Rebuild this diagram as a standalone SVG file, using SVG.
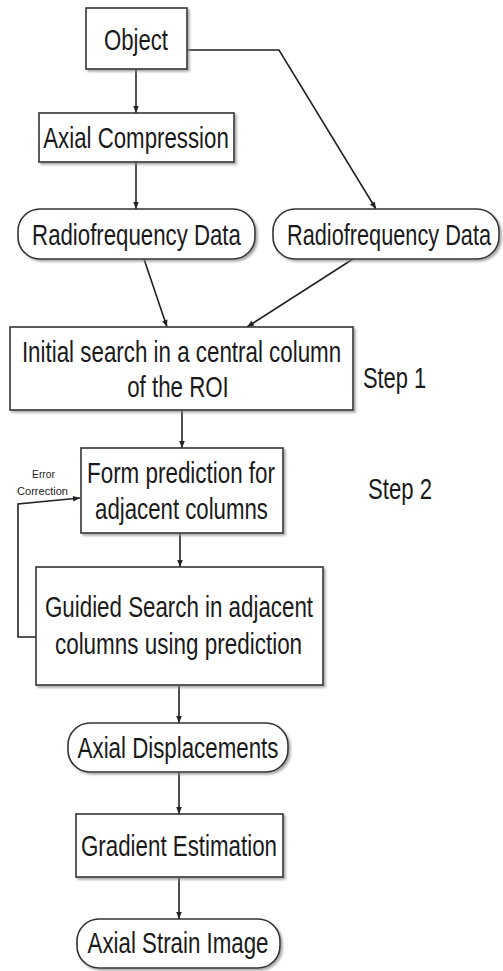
<svg xmlns="http://www.w3.org/2000/svg" width="503" height="971" viewBox="0 0 503 971">
<defs>
<marker id="ah" viewBox="0 0 10 10" refX="10" refY="5" markerWidth="9" markerHeight="7" markerUnits="userSpaceOnUse" orient="auto">
<path d="M0,1 L10,5 L0,9 Z" fill="#222"/>
</marker>
<filter id="sh" x="-10%" y="-10%" width="130%" height="140%">
<feDropShadow dx="2" dy="2" stdDeviation="1.2" flood-color="#888" flood-opacity="0.7"/>
</filter>
</defs>
<style>
.box{fill:#fff;stroke:#333;stroke-width:1.6;filter:url(#sh)}
.t{font-family:"Liberation Sans Narrow","Liberation Sans",Arial,sans-serif;font-size:29px;fill:#1a1a1a;text-anchor:middle}
.s{font-family:"Liberation Sans Narrow","Liberation Sans",Arial,sans-serif;font-size:10px;fill:#222;text-anchor:middle}
.c{fill:none;stroke:#222;stroke-width:1.6}
</style>
<rect width="503" height="971" fill="#fff"/>
<g id="connectors">
<line class="c" x1="136" y1="69" x2="136" y2="113" marker-end="url(#ah)"/>
<polyline class="c" points="187,50 279,50 376,209" marker-end="url(#ah)"/>
<line class="c" x1="136" y1="162" x2="136" y2="209" marker-end="url(#ah)"/>
<line class="c" x1="144" y1="259" x2="167" y2="327" marker-end="url(#ah)"/>
<line class="c" x1="353" y1="259" x2="247" y2="327" marker-end="url(#ah)"/>
<line class="c" x1="182" y1="410" x2="182" y2="448" marker-end="url(#ah)"/>
<line class="c" x1="180" y1="533" x2="180" y2="567" marker-end="url(#ah)"/>
<polyline class="c" points="36,637 18,637 18,504 80,498" marker-end="url(#ah)"/>
<line class="c" x1="179" y1="685" x2="179" y2="723" marker-end="url(#ah)"/>
<line class="c" x1="179" y1="772" x2="179" y2="814" marker-end="url(#ah)"/>
<line class="c" x1="179" y1="877" x2="179" y2="919" marker-end="url(#ah)"/>
</g>
<g id="object"><rect class="box" x="86" y="8" width="101" height="61"/><text class="t" transform="translate(136,50) scale(0.8,1)" textLength="80" lengthAdjust="spacingAndGlyphs">Object</text></g>
<g id="axial-compression"><rect class="box" x="39" y="113" width="195" height="49"/><text class="t" transform="translate(136,148) scale(0.8,1)" textLength="232" lengthAdjust="spacingAndGlyphs">Axial Compression</text></g>
<g id="rf-data-1"><rect class="box" x="18" y="209" width="237" height="50" rx="22"/><text class="t" transform="translate(136.5,245) scale(0.8,1)" textLength="261" lengthAdjust="spacingAndGlyphs">Radiofrequency Data</text></g>
<g id="rf-data-2"><rect class="box" x="273" y="209" width="226" height="50" rx="22"/><text class="t" transform="translate(389,245) scale(0.75,1)" textLength="272" lengthAdjust="spacingAndGlyphs">Radiofrequency Data</text></g>
<g id="initial-search"><rect class="box" x="10" y="327" width="343" height="83"/><text class="t" transform="translate(181.5,362) scale(0.8,1)" textLength="399" lengthAdjust="spacingAndGlyphs">Initial search in a central column</text><text class="t" transform="translate(178,397) scale(0.8,1)" textLength="127" lengthAdjust="spacingAndGlyphs">of the ROI</text></g>
<g id="step1"><text class="t" transform="translate(394.5,388) scale(0.8,1)" textLength="79" lengthAdjust="spacingAndGlyphs">Step 1</text></g>
<g id="form-prediction"><rect class="box" x="81" y="448" width="202" height="85"/><text class="t" transform="translate(181,483) scale(0.8,1)" textLength="235" lengthAdjust="spacingAndGlyphs">Form prediction for</text><text class="t" transform="translate(181.5,519) scale(0.8,1)" textLength="216" lengthAdjust="spacingAndGlyphs">adjacent columns</text></g>
<g id="step2"><text class="t" transform="translate(400,499) scale(0.8,1)" textLength="80" lengthAdjust="spacingAndGlyphs">Step 2</text></g>
<g id="error-correction"><text class="s" x="43.5" y="478" textLength="23" lengthAdjust="spacingAndGlyphs">Error</text><text class="s" x="42.5" y="495" textLength="51" lengthAdjust="spacingAndGlyphs">Correction</text></g>
<g id="guided-search"><rect class="box" x="36" y="567" width="287" height="118"/><text class="t" transform="translate(179,617) scale(0.8,1)" textLength="335" lengthAdjust="spacingAndGlyphs">Guidied Search in adjacent</text><text class="t" transform="translate(178.5,654) scale(0.8,1)" textLength="309" lengthAdjust="spacingAndGlyphs">columns using prediction</text></g>
<g id="axial-displacements"><rect class="box" x="68" y="723" width="220" height="49" rx="22"/><text class="t" transform="translate(178,758) scale(0.8,1)" textLength="251" lengthAdjust="spacingAndGlyphs">Axial Displacements</text></g>
<g id="gradient-estimation"><rect class="box" x="76" y="814" width="207" height="63"/><text class="t" transform="translate(179,856) scale(0.8,1)" textLength="245" lengthAdjust="spacingAndGlyphs">Gradient Estimation</text></g>
<g id="axial-strain"><rect class="box" x="77" y="919" width="203" height="49" rx="22"/><text class="t" transform="translate(178,953) scale(0.8,1)" textLength="226" lengthAdjust="spacingAndGlyphs">Axial Strain Image</text></g>
</svg>
